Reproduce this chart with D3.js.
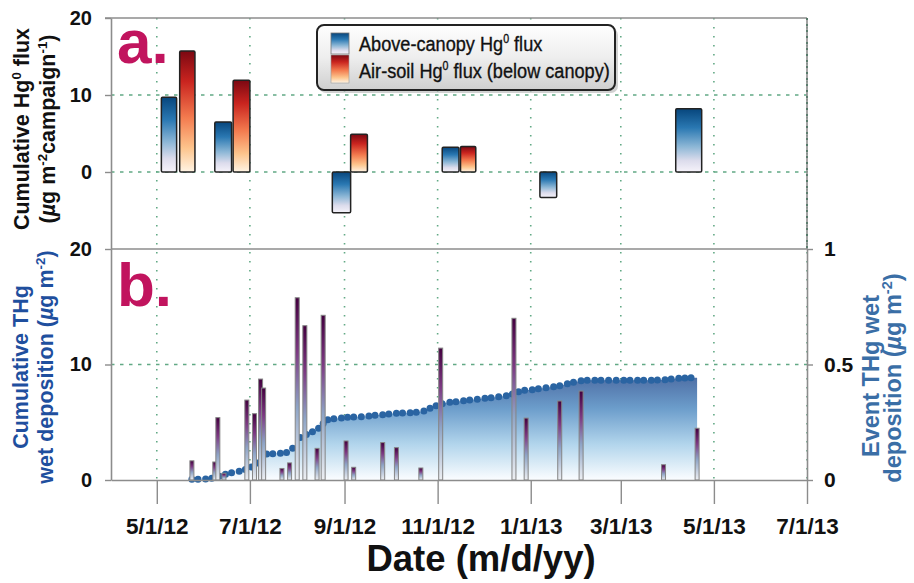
<!DOCTYPE html>
<html>
<head>
<meta charset="utf-8">
<script src="https://cdn.jsdelivr.net/npm/d3@7"></script>
<style>
  html, body { margin: 0; padding: 0; background: #fff; }
  text { font-family: "Liberation Sans", Arial, Helvetica, sans-serif; }
</style>
</head>
<body>
<svg id="chart" width="914" height="583"></svg>
<script>
// ---- Panel a: cumulative Hg0 flux per campaign (µg m-2 campaign-1) ----
const aboveStart = ["2012-05-04", "2012-06-08", "2012-08-24", "2012-11-04", "2013-01-07", "2013-04-06"];
const aboveEnd   = ["2012-05-14", "2012-06-19", "2012-09-05", "2012-11-15", "2013-01-18", "2013-04-23"];
const aboveFlux  = [9.7, 6.5, -5.3, 3.2, -3.3, 8.2];

const soilStart  = ["2012-05-16", "2012-06-20", "2012-09-05", "2012-11-16"];
const soilEnd    = ["2012-05-26", "2012-07-01", "2012-09-16", "2012-11-26"];
const soilFlux   = [15.7, 11.9, 4.9, 3.3];

// ---- Panel b: event THg wet deposition (µg m-2) ----
const eventDates = ["2012-05-24", "2012-06-08", "2012-06-10", "2012-06-14", "2012-06-29", "2012-07-04",
  "2012-07-08", "2012-07-10", "2012-07-22", "2012-07-27", "2012-08-01", "2012-08-06", "2012-08-14",
  "2012-08-18", "2012-09-02", "2012-09-07", "2012-09-26", "2012-10-05", "2012-10-21", "2012-11-03",
  "2012-12-21", "2012-12-29", "2013-01-20", "2013-02-03", "2013-03-29", "2013-04-20"];
const eventDep = [0.083, 0.078, 0.27, 0.029, 0.346, 0.287, 0.437, 0.398, 0.05, 0.074, 0.789, 0.668, 0.137,
  0.713, 0.169, 0.055, 0.162, 0.14, 0.052, 0.571, 0.70, 0.268, 0.342, 0.385, 0.066, 0.224];

// ---- Panel b: cumulative THg wet deposition (µg m-2) ----
const cumDates = ["2012-05-24", "2012-05-28", "2012-06-02", "2012-06-06", "2012-06-11", "2012-06-15",
  "2012-06-19", "2012-06-24", "2012-06-28", "2012-07-02", "2012-07-06", "2012-07-12", "2012-07-16",
  "2012-07-21", "2012-07-25", "2012-07-29", "2012-08-03", "2012-08-07", "2012-08-11", "2012-08-15",
  "2012-08-18", "2012-08-21", "2012-08-25", "2012-08-30", "2012-09-03", "2012-09-07", "2012-09-12",
  "2012-09-17", "2012-09-21", "2012-09-26", "2012-09-30", "2012-10-05", "2012-10-09", "2012-10-14",
  "2012-10-18", "2012-10-23", "2012-10-27", "2012-10-31", "2012-11-04", "2012-11-09", "2012-11-13",
  "2012-11-18", "2012-11-22", "2012-11-27", "2012-12-02", "2012-12-06", "2012-12-11", "2012-12-16",
  "2012-12-20", "2012-12-24", "2012-12-28", "2013-01-02", "2013-01-06", "2013-01-11", "2013-01-16",
  "2013-01-20", "2013-01-25", "2013-01-29", "2013-02-03", "2013-02-07", "2013-02-12", "2013-02-16",
  "2013-02-21", "2013-02-26", "2013-03-03", "2013-03-07", "2013-03-12", "2013-03-16", "2013-03-21",
  "2013-03-25", "2013-03-30", "2013-04-03", "2013-04-08", "2013-04-12", "2013-04-16"];
const cumDep = [0.06, 0.06, 0.09, 0.15, 0.32, 0.49, 0.63, 0.75, 0.91, 1.13, 1.47, 2.25, 2.28, 2.31, 2.38,
  2.74, 3.68, 3.94, 4.18, 4.47, 4.90, 5.22, 5.31, 5.37, 5.43, 5.45, 5.48, 5.54, 5.60, 5.65, 5.71, 5.77,
  5.80, 5.83, 5.86, 5.97, 6.21, 6.43, 6.61, 6.73, 6.78, 6.87, 6.93, 6.99, 7.07, 7.13, 7.21, 7.30, 7.45,
  7.65, 7.77, 7.82, 7.91, 7.99, 8.08, 8.16, 8.34, 8.46, 8.60, 8.63, 8.63, 8.63, 8.63, 8.63, 8.63, 8.63,
  8.63, 8.63, 8.63, 8.66, 8.69, 8.74, 8.80, 8.83, 8.86];

// ---- Axis ticks ----
const dateDomain = ["2012-04-01", "2013-07-01"];
const tickDates  = ["2012-05-01", "2012-07-01", "2012-09-01", "2012-11-01", "2013-01-01", "2013-03-01", "2013-05-01", "2013-07-01"];
const fluxTicks  = [0, 10, 20];
const cumTicks   = [0, 10, 20];
const eventTicks = [0, 0.5, 1];

const parse = d3.timeParse("%Y-%m-%d");
const svg = d3.select("#chart");
const defs = svg.append("defs");

const L = 111, R = 807;
const x  = d3.scaleTime().domain(dateDomain.map(parse)).range([L, R]);
const yA = d3.scaleLinear().domain([-10, 20]).range([249, 18]);
const yB = d3.scaleLinear().domain([0, 20]).range([480, 249]);
const yR = d3.scaleLinear().domain([0, 1]).range([480, 249]);

function gradient(id, stops, attrs) {
  const g = defs.append("linearGradient").attr("id", id)
    .attr("x1", 0).attr("y1", 0).attr("x2", 0).attr("y2", 1);
  if (attrs) Object.entries(attrs).forEach(([k, v]) => g.attr(k, v));
  stops.forEach(([o, c]) => g.append("stop").attr("offset", o).attr("stop-color", c));
  return g;
}
gradient("gBlue", [[0, "#07467d"], [0.3, "#2a78b2"], [0.6, "#8db7d6"], [0.82, "#dcdcec"], [1, "#f6f3fa"]]);
gradient("gRed", [[0, "#7c0812"], [0.25, "#c9241f"], [0.55, "#f37b4f"], [0.8, "#fdc48c"], [1, "#fff4e4"]]);
gradient("gEvent", [[0, "#43003f"], [0.3, "#7d3a83"], [0.6, "#8ea4c6"], [1, "#eef0f3"]]);
gradient("gLegend", [[0, "#fefefe"], [0.5, "#eeeeee"], [1, "#cfcfcf"]]);
const cumMax = d3.max(cumDep);
gradient("gArea", [[0, "#4f70a6"], [0.3, "#6c9dcb"], [0.65, "#b2d5ec"], [1, "#fbfdff"]],
  { gradientUnits: "userSpaceOnUse", x1: 0, x2: 0, y1: yB(cumMax), y2: yB(0) });

// ---- Grid ----
const grid = svg.append("g").attr("stroke", "#62a985").attr("stroke-width", 1.6).attr("fill", "none");
grid.selectAll("line.v").data(tickDates.map(parse)).join("line").attr("class", "v")
  .attr("x1", d => x(d)).attr("x2", d => x(d)).attr("y1", yA(20)).attr("y2", yB(0))
  .attr("stroke-dasharray", "1.6,7.4");
grid.selectAll("line.ha").data([0, 10]).join("line").attr("class", "ha")
  .attr("x1", L).attr("x2", R).attr("y1", d => yA(d)).attr("y2", d => yA(d))
  .attr("stroke-dasharray", "3.5,5.5");
grid.selectAll("line.hb").data([10]).join("line").attr("class", "hb")
  .attr("x1", L).attr("x2", R).attr("y1", d => yB(d)).attr("y2", d => yB(d))
  .attr("stroke-dasharray", "3.5,5.5");

// ---- Panel a bars ----
function fluxBars(starts, ends, vals, fill) {
  const data = vals.map((v, i) => ({ s: parse(starts[i]), e: parse(ends[i]), v }));
  svg.append("g").selectAll("rect").data(data).join("rect")
    .attr("x", d => x(d.s)).attr("width", d => x(d.e) - x(d.s))
    .attr("y", d => yA(Math.max(0, d.v)))
    .attr("height", d => Math.abs(yA(d.v) - yA(0)))
    .attr("rx", 1.2)
    .attr("fill", fill).attr("stroke", "#222").attr("stroke-width", 1.5);
}
fluxBars(aboveStart, aboveEnd, aboveFlux, "url(#gBlue)");
fluxBars(soilStart, soilEnd, soilFlux, "url(#gRed)");

// ---- Panel b: cumulative deposition area + points ----
const cum = cumDep.map((v, i) => ({ date: parse(cumDates[i]), v }));
const lastEvent = parse(eventDates[eventDates.length - 1]);
const areaPts = cum.concat([{ date: lastEvent, v: cumDep[cumDep.length - 1] }]);
svg.append("path").datum(areaPts)
  .attr("fill", "url(#gArea)")
  .attr("d", d3.area().x(d => x(d.date)).y0(yB(0)).y1(d => yB(d.v)));
svg.append("g").selectAll("circle").data(cum).join("circle")
  .attr("cx", d => x(d.date)).attr("cy", d => yB(d.v)).attr("r", 3.5)
  .attr("fill", "#2a64a2");

// ---- Panel b: event bars ----
const events = eventDep.map((v, i) => ({ date: parse(eventDates[i]), v }));
svg.append("g").selectAll("rect").data(events).join("rect")
  .attr("x", d => x(d.date) - 2).attr("width", 4)
  .attr("y", d => yR(d.v)).attr("height", d => yR(0) - yR(d.v))
  .attr("fill", "url(#gEvent)").attr("stroke", "#858585").attr("stroke-width", 1);

// ---- Frame lines ----
const frame = svg.append("g").attr("stroke", "#8c8c8c").attr("stroke-width", 1.6);
frame.append("line").attr("x1", L - 6).attr("x2", R).attr("y1", yA(20)).attr("y2", yA(20));
frame.append("line").attr("x1", L).attr("x2", R).attr("y1", yB(20)).attr("y2", yB(20));
frame.append("line").attr("x1", R).attr("x2", R).attr("y1", yA(20)).attr("y2", yA(-10));
svg.append("line").attr("x1", R).attr("x2", R).attr("y1", yA(20)).attr("y2", yA(-10))
  .attr("stroke", "#3f6e58").attr("stroke-width", 1.4).attr("stroke-dasharray", "2,4");

// ---- Axes ----
function styleAxis(g, size) {
  g.selectAll(".domain").attr("stroke", "#8c8c8c").attr("stroke-width", 1.6);
  g.selectAll(".tick line").attr("stroke", "#8c8c8c").attr("stroke-width", 1.4);
  g.selectAll(".tick text").attr("fill", "#111").attr("font-weight", "bold")
    .attr("font-size", size).attr("font-family", "'Liberation Sans', Arial, sans-serif");
}
svg.append("g").attr("transform", `translate(${L},0)`)
  .call(d3.axisLeft(yA).tickValues(fluxTicks).tickSize(6).tickSizeOuter(0).tickPadding(13))
  .call(g => styleAxis(g, 20));
svg.append("g").attr("transform", `translate(${L},0)`)
  .call(d3.axisLeft(yB).tickValues(cumTicks).tickSize(6).tickSizeOuter(0).tickPadding(13))
  .call(g => styleAxis(g, 20));
svg.append("g").attr("transform", `translate(${R},0)`)
  .call(d3.axisRight(yR).tickValues(eventTicks).tickSize(6).tickSizeOuter(0).tickPadding(11)
    .tickFormat(d3.format("")))
  .call(g => styleAxis(g, 21));
svg.append("g").attr("transform", `translate(0,${yB(0)})`)
  .call(d3.axisBottom(x).tickValues(tickDates.map(parse)).tickSize(24).tickSizeOuter(0).tickPadding(14)
    .tickFormat(d3.timeFormat("%-m/%-d/%y")))
  .call(g => styleAxis(g, 22.5));

// ---- Axis titles ----
function rotLabel(tx, ty, anchor, color, size, parts) {
  const t = svg.append("text").attr("transform", `translate(${tx},${ty}) rotate(-90)`)
    .attr("text-anchor", anchor).attr("fill", color).attr("font-weight", "bold").attr("font-size", size);
  parts.forEach(p => {
    const s = t.append("tspan").text(p.t);
    if (p.sup) s.attr("font-size", size * 0.62).attr("dy", -size * 0.38);
    if (p.down) s.attr("dy", size * 0.38);
    if (p.it) s.attr("font-style", "italic");
  });
  return t;
}
rotLabel(29, 129, "middle", "#111", 21.5,
  [{ t: "Cumulative Hg" }, { t: "0", sup: true }, { t: " flux", down: true }]);
rotLabel(55, 129, "middle", "#111", 21.5,
  [{ t: "(" }, { t: "µ", it: true }, { t: "g m" }, { t: "-2", sup: true }, { t: "campaign", down: true },
   { t: "-1", sup: true }, { t: ")", down: true }]);
rotLabel(28, 367, "middle", "#1f4f9e", 21.5, [{ t: "Cumulative THg" }]);
rotLabel(53, 367, "middle", "#1f4f9e", 21.5,
  [{ t: "wet deposition (" }, { t: "µ", it: true }, { t: "g m" }, { t: "-2", sup: true }, { t: ")", down: true }]);
rotLabel(879, 376, "middle", "#3a6ea6", 23.5, [{ t: "Event THg wet" }]);
rotLabel(901, 378, "middle", "#3a6ea6", 23.5,
  [{ t: "deposition (" }, { t: "µ", it: true }, { t: "g m" }, { t: "-2", sup: true }, { t: ")", down: true }]);

svg.append("text").attr("x", 481).attr("y", 571).attr("text-anchor", "middle")
  .attr("font-weight", "bold").attr("font-size", 36.5).attr("fill", "#111").text("Date (m/d/yy)");

// ---- Panel letters ----
svg.append("text").attr("x", 117).attr("y", 63).attr("font-size", 62).attr("font-weight", "bold")
  .attr("fill", "#c1145e").text("a.");
svg.append("text").attr("x", 117).attr("y", 306).attr("font-size", 62).attr("font-weight", "bold")
  .attr("fill", "#c1145e").text("b.");

// ---- Legend ----
const lg = svg.append("g");
lg.append("rect").attr("x", 319).attr("y", 28).attr("width", 299).attr("height", 65).attr("rx", 7)
  .attr("fill", "#9a9a9a").attr("opacity", 0.45);
lg.append("rect").attr("x", 317).attr("y", 25).attr("width", 298).attr("height", 65).attr("rx", 7)
  .attr("fill", "url(#gLegend)").attr("stroke", "#222").attr("stroke-width", 2);
lg.append("rect").attr("x", 331).attr("y", 33).attr("width", 18).attr("height", 21)
  .attr("fill", "url(#gBlue)").attr("stroke", "#777").attr("stroke-width", 0.8);
lg.append("rect").attr("x", 331).attr("y", 55).attr("width", 18).attr("height", 28)
  .attr("fill", "url(#gRed)").attr("stroke", "#999").attr("stroke-width", 0.6);
const legendItems = [
  { y: 51, parts: [["Above-canopy Hg"], ["0", true], [" flux"]] },
  { y: 78, parts: [["Air-soil Hg"], ["0", true], [" flux (below canopy)"]] }
];
legendItems.forEach(it => {
  // condensed face: regular sans narrowed horizontally
  const t = lg.append("text").attr("transform", `translate(359,${it.y}) scale(0.885,1)`)
    .attr("font-size", 20.5).attr("fill", "#111")
    .attr("stroke", "#111").attr("stroke-width", 0.35);
  it.parts.forEach(([s, sup], i) => {
    const ts = t.append("tspan").text(s);
    if (sup) ts.attr("font-size", 12).attr("dy", -8);
    else if (i > 0) ts.attr("dy", 8);
  });
});
</script>
</body>
</html>
